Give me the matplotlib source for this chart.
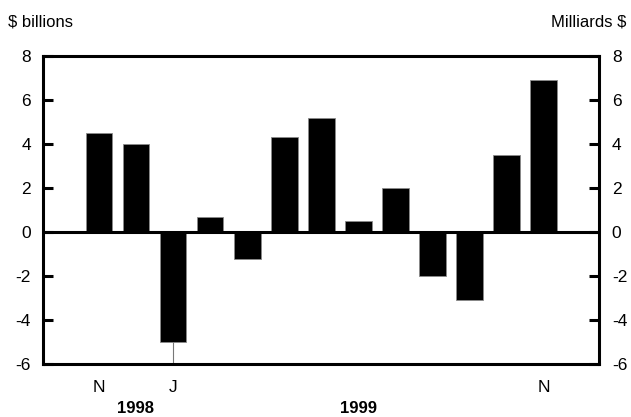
import numpy as np
import matplotlib.pyplot as plt

plt.rcParams['font.family'] = ['Liberation Sans', 'DejaVu Sans']

months = ["N", "D", "J", "F", "M", "A", "M", "J", "J", "A", "S", "O", "N"]
values = [4.5, 4.0, -5.0, 0.7, -1.2, 4.3, 5.2, 0.5, 2.0, -2.0, -3.1, 3.5, 6.9]
shown_months = [0, 2, 12]
years = ["1998", "1999"]
year_pos = [1, 7]
yticks = [-6, -4, -2, 0, 2, 4, 6, 8]

fig = plt.figure(figsize=(6.31, 4.17), dpi=100)
ax = fig.add_axes([0.0686, 0.1264, 0.8812, 0.7393])
x = np.arange(len(values))

ax.bar(x, values, width=0.72, color="black", edgecolor="#8a8a8a", linewidth=0.6, zorder=2)
ax.axhline(0, color="black", linewidth=2.2, zorder=3)

# thin guide under the January bar
j = shown_months[1]
ax.plot([x[j], x[j]], [yticks[0], values[j]], color="#777777", linewidth=0.8, zorder=1)

ax.set_xlim(-1.5, 13.5)
ax.set_ylim(-6, 8)
ax.set_yticks(yticks)
ax.set_yticklabels([str(t) for t in yticks], fontsize=12.5)
ax.tick_params(axis="y", direction="in", length=7, width=2.2, right=True,
               labelright=True, pad=9)
ax.set_xticks([])
for s in ax.spines.values():
    s.set_linewidth(2.2)

for i in shown_months:
    ax.text(x[i], -7.05, months[i], ha="center", va="center", fontsize=12.5)
for yr, p in zip(years, year_pos):
    ax.text(p, -8.0, yr, ha="center", va="center", fontsize=12, fontweight="bold")

fig.text(0.013, 0.947, "$ billions", ha="left", va="center", fontsize=12)
fig.text(0.992, 0.947, "Milliards $", ha="right", va="center", fontsize=12)

fig.savefig("out.png", dpi=100)
